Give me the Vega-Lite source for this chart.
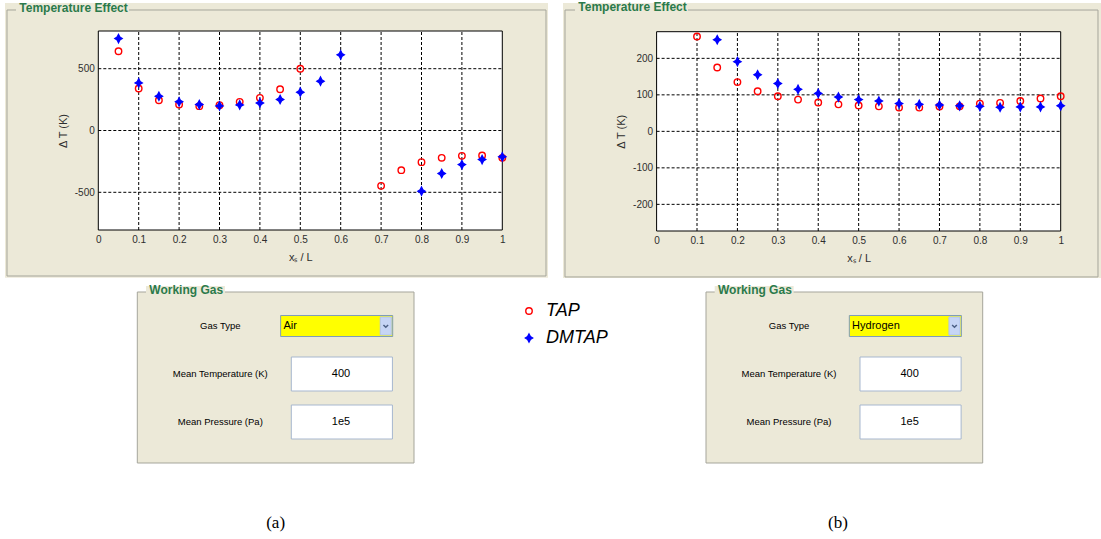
{
  "$schema": "https://vega.github.io/schema/vega-lite/v6.json",
  "width": 1101,
  "height": 539,
  "autosize": "none",
  "padding": 0,
  "background": "#ffffff",
  "config": {
    "view": {"stroke": null},
    "font": "Liberation Sans",
    "text": {"font": "Liberation Sans"}
  },
  "datasets": {
    "air": [
      {"method": "TAP", "xs": 0.05, "dT": 641},
      {"method": "TAP", "xs": 0.1, "dT": 340},
      {"method": "TAP", "xs": 0.15, "dT": 245},
      {"method": "TAP", "xs": 0.2, "dT": 210},
      {"method": "TAP", "xs": 0.25, "dT": 197},
      {"method": "TAP", "xs": 0.3, "dT": 205},
      {"method": "TAP", "xs": 0.35, "dT": 232},
      {"method": "TAP", "xs": 0.4, "dT": 264},
      {"method": "TAP", "xs": 0.45, "dT": 334},
      {"method": "TAP", "xs": 0.5, "dT": 500},
      {"method": "TAP", "xs": 0.7, "dT": -448},
      {"method": "TAP", "xs": 0.75, "dT": -321},
      {"method": "TAP", "xs": 0.8, "dT": -256},
      {"method": "TAP", "xs": 0.85, "dT": -221},
      {"method": "TAP", "xs": 0.9, "dT": -205},
      {"method": "TAP", "xs": 0.95, "dT": -202},
      {"method": "TAP", "xs": 1.0, "dT": -221},
      {"method": "DMTAP", "xs": 0.05, "dT": 744},
      {"method": "DMTAP", "xs": 0.1, "dT": 385},
      {"method": "DMTAP", "xs": 0.15, "dT": 277},
      {"method": "DMTAP", "xs": 0.2, "dT": 232},
      {"method": "DMTAP", "xs": 0.25, "dT": 210},
      {"method": "DMTAP", "xs": 0.3, "dT": 199},
      {"method": "DMTAP", "xs": 0.35, "dT": 207},
      {"method": "DMTAP", "xs": 0.4, "dT": 223},
      {"method": "DMTAP", "xs": 0.45, "dT": 251},
      {"method": "DMTAP", "xs": 0.5, "dT": 310},
      {"method": "DMTAP", "xs": 0.55, "dT": 399},
      {"method": "DMTAP", "xs": 0.6, "dT": 612},
      {"method": "DMTAP", "xs": 0.8, "dT": -491},
      {"method": "DMTAP", "xs": 0.85, "dT": -348},
      {"method": "DMTAP", "xs": 0.9, "dT": -276},
      {"method": "DMTAP", "xs": 0.95, "dT": -235},
      {"method": "DMTAP", "xs": 1.0, "dT": -213}
    ],
    "hydrogen": [
      {"method": "TAP", "xs": 0.1, "dT": 260},
      {"method": "TAP", "xs": 0.15, "dT": 175},
      {"method": "TAP", "xs": 0.2, "dT": 135},
      {"method": "TAP", "xs": 0.25, "dT": 110},
      {"method": "TAP", "xs": 0.3, "dT": 96},
      {"method": "TAP", "xs": 0.35, "dT": 87},
      {"method": "TAP", "xs": 0.4, "dT": 79},
      {"method": "TAP", "xs": 0.45, "dT": 74},
      {"method": "TAP", "xs": 0.5, "dT": 71},
      {"method": "TAP", "xs": 0.55, "dT": 68.5},
      {"method": "TAP", "xs": 0.6, "dT": 65},
      {"method": "TAP", "xs": 0.65, "dT": 65},
      {"method": "TAP", "xs": 0.7, "dT": 68},
      {"method": "TAP", "xs": 0.75, "dT": 68.5},
      {"method": "TAP", "xs": 0.8, "dT": 76},
      {"method": "TAP", "xs": 0.85, "dT": 78},
      {"method": "TAP", "xs": 0.9, "dT": 83},
      {"method": "TAP", "xs": 0.95, "dT": 90},
      {"method": "TAP", "xs": 1.0, "dT": 96},
      {"method": "DMTAP", "xs": 0.15, "dT": 251},
      {"method": "DMTAP", "xs": 0.2, "dT": 191},
      {"method": "DMTAP", "xs": 0.25, "dT": 155},
      {"method": "DMTAP", "xs": 0.3, "dT": 131},
      {"method": "DMTAP", "xs": 0.35, "dT": 115},
      {"method": "DMTAP", "xs": 0.4, "dT": 104},
      {"method": "DMTAP", "xs": 0.45, "dT": 94},
      {"method": "DMTAP", "xs": 0.5, "dT": 87},
      {"method": "DMTAP", "xs": 0.55, "dT": 83},
      {"method": "DMTAP", "xs": 0.6, "dT": 76},
      {"method": "DMTAP", "xs": 0.65, "dT": 74},
      {"method": "DMTAP", "xs": 0.7, "dT": 72},
      {"method": "DMTAP", "xs": 0.75, "dT": 70},
      {"method": "DMTAP", "xs": 0.8, "dT": 68.5},
      {"method": "DMTAP", "xs": 0.85, "dT": 66},
      {"method": "DMTAP", "xs": 0.9, "dT": 67},
      {"method": "DMTAP", "xs": 0.95, "dT": 67},
      {"method": "DMTAP", "xs": 1.0, "dT": 70}
    ],
    "airForm": [
      {"field": "Gas Type", "value": "Air"},
      {"field": "Mean Temperature (K)", "value": "400"},
      {"field": "Mean Pressure (Pa)", "value": "1e5"}
    ],
    "hydrogenForm": [
      {"field": "Gas Type", "value": "Hydrogen"},
      {"field": "Mean Temperature (K)", "value": "400"},
      {"field": "Mean Pressure (Pa)", "value": "1e5"}
    ]
  },
  "layer": [
    {
      "layer": [
        {
          "data": {"values": [{}]},
          "mark": {"type": "rect", "fill": "#ece9d8"},
          "encoding": {
            "x": {"datum": -0.2309}, "x2": {"datum": 1.1131},
            "y": {"datum": 1031.5}, "y2": {"datum": -1192}
          }
        },
        {
          "data": {"values": [{}]},
          "mark": {"type": "rect", "fill": null, "fillOpacity": 0, "stroke": "#a5a59b", "strokeWidth": 1},
          "encoding": {
            "x": {"datum": -0.226}, "x2": {"datum": 1.1082},
            "y": {"datum": 974.9}, "y2": {"datum": -1177.2}
          }
        },
        {
          "data": {"values": [{}]},
          "mark": {"type": "rect", "fill": "#ece9d8"},
          "encoding": {
            "x": {"datum": -0.2037}, "x2": {"datum": 0.076},
            "y": {"datum": 1031.5}, "y2": {"datum": 942.6}
          }
        },
        {
          "data": {"values": [{}]},
          "mark": {"type": "text", "text": "Temperature Effect", "align": "left", "baseline": "middle", "fontSize": 12, "fontWeight": "bold", "fill": "#2b7a4b"},
          "encoding": {"x": {"datum": -0.1955}, "y": {"datum": 995.1}}
        },
        {
          "data": {"values": [{}]},
          "mark": {"type": "rect", "fill": "#ffffff", "stroke": "#000000", "strokeWidth": 1},
          "encoding": {
            "x": {"datum": 0}, "x2": {"datum": 1},
            "y": {"datum": -805}, "y2": {"datum": 805}
          }
        },
        {
          "data": {"values": [0.1, 0.2, 0.3, 0.4, 0.5, 0.6, 0.7, 0.8, 0.9]},
          "mark": {"type": "rule", "stroke": "#000000", "strokeWidth": 1, "strokeDash": [3, 2]},
          "encoding": {
            "x": {"field": "data", "type": "quantitative"},
            "y": {"datum": -805}, "y2": {"datum": 805}
          }
        },
        {
          "data": {"values": [-500, 0, 500]},
          "mark": {"type": "rule", "stroke": "#000000", "strokeWidth": 1, "strokeDash": [3, 2]},
          "encoding": {
            "y": {"field": "data", "type": "quantitative"},
            "x": {"datum": 0}, "x2": {"datum": 1}
          }
        },
        {
          "data": {"name": "air"},
          "mark": {"type": "point", "opacity": 1, "strokeWidth": 1.4, "size": 42},
          "encoding": {
            "x": {
              "field": "xs", "type": "quantitative",
              "scale": {"domain": [0, 1], "range": [98.3, 502.3], "nice": false, "zero": false},
              "axis": {
                "orient": "bottom", "offset": -309, "zindex": 2,
                "values": [0, 0.1, 0.2, 0.3, 0.4, 0.5, 0.6, 0.7, 0.8, 0.9, 1],
                "labelExpr": "'' + datum.value",
                "domain": false, "ticks": false, "tickSize": 0, "grid": false,
                "labelFontSize": 10, "labelColor": "#2e2e2e", "labelPadding": 4,
                "labelFlush": false, "labelOverlap": false, "labelBound": false,
                "title": "xₛ / L", "titleFontSize": 11, "titleFontWeight": "normal",
                "titleColor": "#2e2e2e", "titlePadding": 7
              }
            },
            "y": {
              "field": "dT", "type": "quantitative",
              "scale": {"domain": [-805, 805], "range": [230, 31], "nice": false, "zero": false},
              "axis": {
                "orient": "left", "offset": -98.3, "zindex": 2,
                "values": [-500, 0, 500],
                "labelExpr": "'' + datum.value",
                "domain": false, "ticks": false, "tickSize": 0, "grid": false,
                "labelFontSize": 10, "labelColor": "#2e2e2e", "labelPadding": 4,
                "labelFlush": false, "labelOverlap": false, "labelBound": false,
                "title": "Δ T (K)", "titleFontSize": 11, "titleFontWeight": "normal",
                "titleColor": "#2e2e2e", "titlePadding": 6
              }
            },
            "stroke": {
              "field": "method", "type": "nominal",
              "scale": {"domain": ["TAP", "DMTAP"], "range": ["#ff0000", "#0000ff"]},
              "legend": {
                "title": null, "orient": "none", "legendX": 520, "legendY": 302,
                "labelFontSize": 18, "labelFontStyle": "italic", "labelFont": "Liberation Sans",
                "labelOffset": 8, "rowPadding": 9, "symbolSize": 42, "symbolStrokeWidth": 1.4,
                "padding": 0,
                "encode": {"labels": {"update": {"fill": {"signal": "datum.label === 'TAP' ? '#e3141b' : '#25508f'"}}}}
              }
            },
            "fill": {
              "field": "method", "type": "nominal",
              "scale": {"domain": ["TAP", "DMTAP"], "range": ["transparent", "#0000ff"]}
            },
            "shape": {
              "field": "method", "type": "nominal",
              "scale": {"domain": ["TAP", "DMTAP"], "range": ["circle", "M0,-1.25L0.42,-0.42L1.1,0L0.42,0.42L0,1.25L-0.42,0.42L-1.1,0L-0.42,-0.42Z"]}
            }
          }
        }
      ]
    },
    {
      "layer": [
        {
          "data": {"values": [{}]},
          "mark": {"type": "rect", "fill": "#ece9d8"},
          "encoding": {
            "x": {"datum": -0.2316}, "x2": {"datum": 1.0997},
            "y": {"datum": 351.6}, "y2": {"datum": -401.8}
          }
        },
        {
          "data": {"values": [{}]},
          "mark": {"type": "rect", "fill": null, "fillOpacity": 0, "stroke": "#a5a59b", "strokeWidth": 1},
          "encoding": {
            "x": {"datum": -0.2267}, "x2": {"datum": 1.0923},
            "y": {"datum": 332.4}, "y2": {"datum": -398.9}
          }
        },
        {
          "data": {"values": [{}]},
          "mark": {"type": "rect", "fill": "#ece9d8"},
          "encoding": {
            "x": {"datum": -0.2019}, "x2": {"datum": 0.0777},
            "y": {"datum": 351.6}, "y2": {"datum": 321.5}
          }
        },
        {
          "data": {"values": [{}]},
          "mark": {"type": "text", "text": "Temperature Effect", "align": "left", "baseline": "middle", "fontSize": 12, "fontWeight": "bold", "fill": "#2b7a4b"},
          "encoding": {"x": {"datum": -0.1938}, "y": {"datum": 339.3}}
        },
        {
          "data": {"values": [{}]},
          "mark": {"type": "rect", "fill": "#ffffff", "stroke": "#000000", "strokeWidth": 1},
          "encoding": {
            "x": {"datum": 0}, "x2": {"datum": 1},
            "y": {"datum": -273}, "y2": {"datum": 273}
          }
        },
        {
          "data": {"values": [0.1, 0.2, 0.3, 0.4, 0.5, 0.6, 0.7, 0.8, 0.9]},
          "mark": {"type": "rule", "stroke": "#000000", "strokeWidth": 1, "strokeDash": [3, 2]},
          "encoding": {
            "x": {"field": "data", "type": "quantitative"},
            "y": {"datum": -273}, "y2": {"datum": 273}
          }
        },
        {
          "data": {"values": [-200, -100, 0, 100, 200]},
          "mark": {"type": "rule", "stroke": "#000000", "strokeWidth": 1, "strokeDash": [3, 2]},
          "encoding": {
            "y": {"field": "data", "type": "quantitative"},
            "x": {"datum": 0}, "x2": {"datum": 1}
          }
        },
        {
          "data": {"name": "hydrogen"},
          "mark": {"type": "point", "opacity": 1, "strokeWidth": 1.4, "size": 42},
          "encoding": {
            "x": {
              "field": "xs", "type": "quantitative",
              "scale": {"domain": [0, 1], "range": [656.6, 1060.7], "nice": false, "zero": false},
              "axis": {
                "orient": "bottom", "offset": -308, "zindex": 2,
                "values": [0, 0.1, 0.2, 0.3, 0.4, 0.5, 0.6, 0.7, 0.8, 0.9, 1],
                "labelExpr": "'' + datum.value",
                "domain": false, "ticks": false, "tickSize": 0, "grid": false,
                "labelFontSize": 10, "labelColor": "#2e2e2e", "labelPadding": 4,
                "labelFlush": false, "labelOverlap": false, "labelBound": false,
                "title": "xₛ / L", "titleFontSize": 11, "titleFontWeight": "normal",
                "titleColor": "#2e2e2e", "titlePadding": 7
              }
            },
            "y": {
              "field": "dT", "type": "quantitative",
              "scale": {"domain": [-273, 273], "range": [231, 31.7], "nice": false, "zero": false},
              "axis": {
                "orient": "left", "offset": -656.6, "zindex": 2,
                "values": [-200, -100, 0, 100, 200],
                "labelExpr": "'' + datum.value",
                "domain": false, "ticks": false, "tickSize": 0, "grid": false,
                "labelFontSize": 10, "labelColor": "#2e2e2e", "labelPadding": 4,
                "labelFlush": false, "labelOverlap": false, "labelBound": false,
                "title": "Δ T (K)", "titleFontSize": 11, "titleFontWeight": "normal",
                "titleColor": "#2e2e2e", "titlePadding": 6
              }
            },
            "stroke": {
              "field": "method", "type": "nominal",
              "scale": {"domain": ["TAP", "DMTAP"], "range": ["#ff0000", "#0000ff"]},
              "legend": {
                "title": null, "orient": "none", "legendX": 520, "legendY": 302,
                "labelFontSize": 18, "labelFontStyle": "italic", "labelFont": "Liberation Sans",
                "labelOffset": 8, "rowPadding": 9, "symbolSize": 42, "symbolStrokeWidth": 1.4,
                "padding": 0,
                "encode": {"labels": {"update": {"fill": {"signal": "datum.label === 'TAP' ? '#e3141b' : '#25508f'"}}}}
              }
            },
            "fill": {
              "field": "method", "type": "nominal",
              "scale": {"domain": ["TAP", "DMTAP"], "range": ["transparent", "#0000ff"]}
            },
            "shape": {
              "field": "method", "type": "nominal",
              "scale": {"domain": ["TAP", "DMTAP"], "range": ["circle", "M0,-1.25L0.42,-0.42L1.1,0L0.42,0.42L0,1.25L-0.42,0.42L-1.1,0L-0.42,-0.42Z"]}
            }
          }
        }
      ]
    },
    {
      "data": {"values": [{}]},
      "encoding": {
        "x": {"type": "quantitative", "scale": {"domain": [0, 1], "range": [137.3, 414], "nice": false, "zero": false}, "axis": null},
        "y": {"type": "quantitative", "scale": {"domain": [0, 1], "range": [292, 463], "nice": false, "zero": false}, "axis": null}
      },
      "layer": [
        {
          "mark": {"type": "rect", "fill": "#ece9d8", "stroke": "#a5a59b", "strokeWidth": 1},
          "encoding": {"x": {"datum": 0}, "x2": {"datum": 1}, "y": {"datum": 0}, "y2": {"datum": 1}}
        },
        {
          "mark": {"type": "rect", "fill": "#ece9d8"},
          "encoding": {"x": {"datum": 0.0314}, "x2": {"datum": 0.3166}, "y": {"datum": -0.035}, "y2": {"datum": 0.02}}
        },
        {
          "mark": {"type": "text", "text": "Working Gas", "align": "left", "baseline": "middle", "fontSize": 12, "fontWeight": "bold", "fill": "#2b7a4b"},
          "encoding": {"x": {"datum": 0.0434}, "y": {"datum": -0.0146}}
        },
        {
          "mark": {"type": "text", "text": "(a)", "align": "center", "baseline": "middle", "fontSize": 17, "font": "Liberation Serif", "fill": "#000000"},
          "encoding": {"x": {"datum": 0.5}, "y": {"datum": 1.351}}
        }
      ]
    },
    {
      "data": {"values": [{}]},
      "encoding": {
        "x": {"type": "quantitative", "scale": {"domain": [0, 1], "range": [706, 982.7], "nice": false, "zero": false}, "axis": null},
        "y": {"type": "quantitative", "scale": {"domain": [0, 1], "range": [292, 463], "nice": false, "zero": false}, "axis": null}
      },
      "layer": [
        {
          "mark": {"type": "rect", "fill": "#ece9d8", "stroke": "#a5a59b", "strokeWidth": 1},
          "encoding": {"x": {"datum": 0}, "x2": {"datum": 1}, "y": {"datum": 0}, "y2": {"datum": 1}}
        },
        {
          "mark": {"type": "rect", "fill": "#ece9d8"},
          "encoding": {"x": {"datum": 0.0314}, "x2": {"datum": 0.3166}, "y": {"datum": -0.035}, "y2": {"datum": 0.02}}
        },
        {
          "mark": {"type": "text", "text": "Working Gas", "align": "left", "baseline": "middle", "fontSize": 12, "fontWeight": "bold", "fill": "#2b7a4b"},
          "encoding": {"x": {"datum": 0.0434}, "y": {"datum": -0.0146}}
        },
        {
          "mark": {"type": "text", "text": "(b)", "align": "center", "baseline": "middle", "fontSize": 17, "font": "Liberation Serif", "fill": "#000000"},
          "encoding": {"x": {"datum": 0.477}, "y": {"datum": 1.351}}
        }
      ]
    },
    {
      "data": {"name": "airForm"},
      "encoding": {
        "y": {"field": "field", "type": "nominal", "scale": {"type": "point", "domain": ["Gas Type", "Mean Temperature (K)", "Mean Pressure (Pa)"], "range": [326, 422], "padding": 0}, "axis": null}
      },
      "layer": [
        {
          "transform": [{"filter": "datum.field !== 'Gas Type'"}],
          "mark": {"type": "rect", "fill": "#ffffff", "stroke": "#a7b7cf", "strokeWidth": 1, "height": 34},
          "encoding": {"x": {"datum": 0.5566, "scale": {"domain": [0, 1], "range": [137.3, 414], "nice": false, "zero": false}, "axis": null}, "x2": {"datum": 0.922}}
        },
        {
          "transform": [{"filter": "datum.field === 'Gas Type'"}],
          "mark": {"type": "rect", "fill": "#ffff00", "stroke": "#7f9db9", "strokeWidth": 1, "height": 21},
          "encoding": {"x": {"datum": 0.518}, "x2": {"datum": 0.923}}
        },
        {
          "transform": [{"filter": "datum.field === 'Gas Type'"}],
          "mark": {"type": "rect", "fill": "#c6d5f5", "stroke": "#b1c3ec", "strokeWidth": 1, "height": 18},
          "encoding": {"x": {"datum": 0.878}, "x2": {"datum": 0.918}}
        },
        {
          "transform": [{"filter": "datum.field === 'Gas Type'"}],
          "mark": {"type": "point", "shape": "M-1,-0.45L0,0.55L1,-0.45", "filled": false, "stroke": "#4d6185", "strokeWidth": 1.5, "size": 22, "opacity": 1},
          "encoding": {"x": {"datum": 0.898}}
        },
        {
          "transform": [{"filter": "datum.field !== 'Gas Type'"}],
          "mark": {"type": "text", "align": "center", "baseline": "middle", "fontSize": 11, "fill": "#000000"},
          "encoding": {"x": {"datum": 0.736}, "text": {"field": "value"}}
        },
        {
          "transform": [{"filter": "datum.field === 'Gas Type'"}],
          "mark": {"type": "text", "align": "left", "baseline": "middle", "fontSize": 11, "fill": "#000000"},
          "encoding": {"x": {"datum": 0.528}, "text": {"field": "value"}}
        },
        {
          "mark": {"type": "text", "align": "center", "baseline": "middle", "fontSize": 9.5, "fill": "#000000"},
          "encoding": {"x": {"datum": 0.3}, "text": {"field": "field"}}
        }
      ]
    },
    {
      "data": {"name": "hydrogenForm"},
      "encoding": {
        "y": {"field": "field", "type": "nominal", "scale": {"type": "point", "domain": ["Gas Type", "Mean Temperature (K)", "Mean Pressure (Pa)"], "range": [326, 422], "padding": 0}, "axis": null}
      },
      "layer": [
        {
          "transform": [{"filter": "datum.field !== 'Gas Type'"}],
          "mark": {"type": "rect", "fill": "#ffffff", "stroke": "#a7b7cf", "strokeWidth": 1, "height": 34},
          "encoding": {"x": {"datum": 0.5566, "scale": {"domain": [0, 1], "range": [706, 982.7], "nice": false, "zero": false}, "axis": null}, "x2": {"datum": 0.922}}
        },
        {
          "transform": [{"filter": "datum.field === 'Gas Type'"}],
          "mark": {"type": "rect", "fill": "#ffff00", "stroke": "#7f9db9", "strokeWidth": 1, "height": 21},
          "encoding": {"x": {"datum": 0.518}, "x2": {"datum": 0.923}}
        },
        {
          "transform": [{"filter": "datum.field === 'Gas Type'"}],
          "mark": {"type": "rect", "fill": "#c6d5f5", "stroke": "#b1c3ec", "strokeWidth": 1, "height": 18},
          "encoding": {"x": {"datum": 0.878}, "x2": {"datum": 0.918}}
        },
        {
          "transform": [{"filter": "datum.field === 'Gas Type'"}],
          "mark": {"type": "point", "shape": "M-1,-0.45L0,0.55L1,-0.45", "filled": false, "stroke": "#4d6185", "strokeWidth": 1.5, "size": 22, "opacity": 1},
          "encoding": {"x": {"datum": 0.898}}
        },
        {
          "transform": [{"filter": "datum.field !== 'Gas Type'"}],
          "mark": {"type": "text", "align": "center", "baseline": "middle", "fontSize": 11, "fill": "#000000"},
          "encoding": {"x": {"datum": 0.736}, "text": {"field": "value"}}
        },
        {
          "transform": [{"filter": "datum.field === 'Gas Type'"}],
          "mark": {"type": "text", "align": "left", "baseline": "middle", "fontSize": 11, "fill": "#000000"},
          "encoding": {"x": {"datum": 0.528}, "text": {"field": "value"}}
        },
        {
          "mark": {"type": "text", "align": "center", "baseline": "middle", "fontSize": 9.5, "fill": "#000000"},
          "encoding": {"x": {"datum": 0.3}, "text": {"field": "field"}}
        }
      ]
    }
  ],
  "resolve": {
    "scale": {"x": "independent", "y": "independent"},
    "axis": {"x": "independent", "y": "independent"}
  }
}
